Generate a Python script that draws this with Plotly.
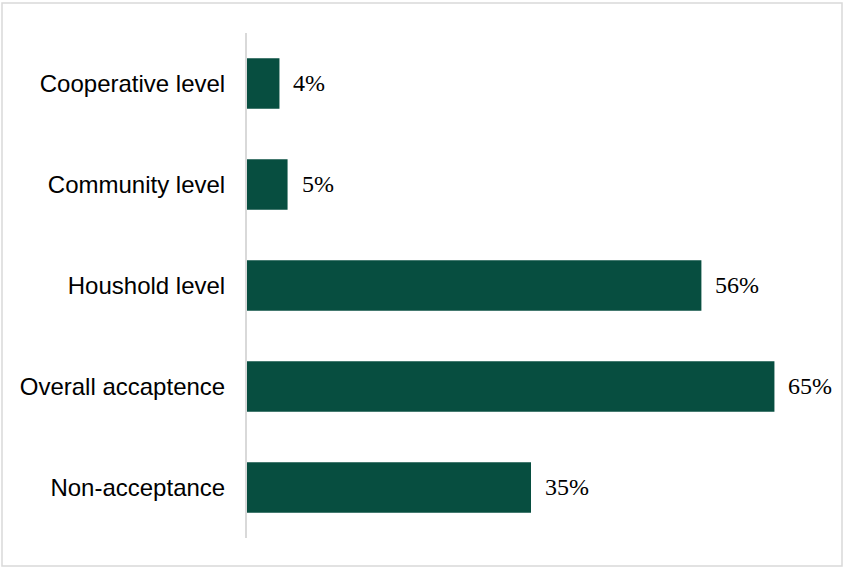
import plotly.graph_objects as go

categories = ["Cooperative level", "Community level", "Houshold level", "Overall accaptence", "Non-acceptance"]
values = [4, 5, 56, 65, 35]
value_labels = ["4%", "5%", "56%", "65%", "35%"]

BAR_COLOR = "#074E40"
GRID = "#D9D9D9"

fig = go.Figure()
fig.add_trace(go.Bar(
    x=values, y=categories, orientation="h",
    marker=dict(color=BAR_COLOR, line=dict(width=0)),
    hoverinfo="skip",
))

for v, c, t in zip(values, categories, value_labels):
    fig.add_annotation(x=v, y=c, text=t, showarrow=False, xanchor="left", yanchor="middle",
                       xshift=12, yshift=1,
                       font=dict(family="Liberation Serif, Times New Roman, serif", size=24, color="#000000"))

fig.update_layout(
    width=844, height=568,
    margin=dict(l=247, r=29, t=33, b=30),
    paper_bgcolor="white", plot_bgcolor="white",
    bargap=0.5, showlegend=False,
    xaxis=dict(range=[0, 70], visible=False, fixedrange=True),
    yaxis=dict(categoryorder="array", categoryarray=categories[::-1],
               showline=True, linecolor=GRID, linewidth=2, ticks="", showgrid=False,
               ticklabelstandoff=15, fixedrange=True,
               tickfont=dict(family="Liberation Sans, Arial, sans-serif", size=24, color="#000000")),
    shapes=[dict(type="rect", xref="paper", yref="paper",
                 x0=(2 - 247) / 568, x1=(842 - 247) / 568,
                 y0=(538 - 566) / 505, y1=(538 - 3) / 505,
                 line=dict(color=GRID, width=1.5), fillcolor="rgba(0,0,0,0)", layer="below")],
)

fig.write_html("out.html", config={"displayModeBar": False},
               post_script="document.body.style.margin='0';document.body.style.overflow='hidden';")
